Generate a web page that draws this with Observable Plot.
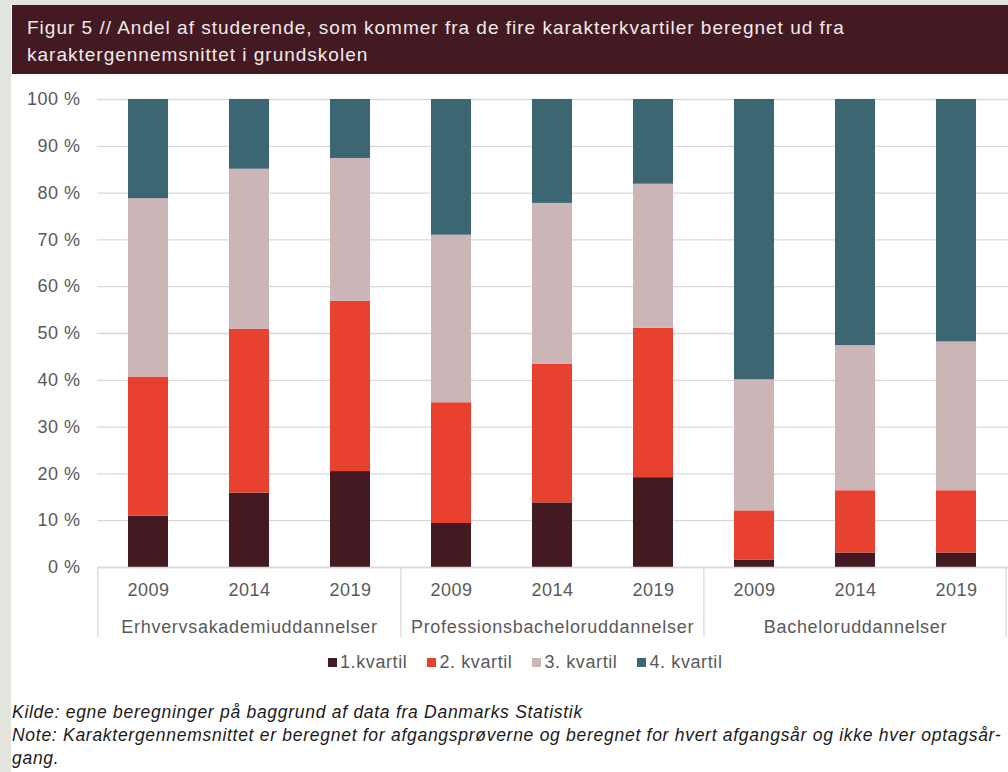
<!DOCTYPE html>
<html><head><meta charset="utf-8">
<script src="https://cdn.jsdelivr.net/npm/d3@7"></script>
<script src="https://cdn.jsdelivr.net/npm/@observablehq/plot@0.6"></script>
<style>
body{margin:0;width:1008px;height:772px;position:relative;background:#fff;font-family:"Liberation Sans",Arial,sans-serif;overflow:hidden}
#strip{position:absolute;left:0;top:0;width:11px;height:772px;background:#e4e4df;z-index:2}
#topstrip{position:absolute;left:0;top:0;width:1008px;height:5px;background:#e4e4df;z-index:2}
#title{position:absolute;left:12px;top:5px;width:996px;height:69px;background:#431a22;color:#f3e9ea;font-size:19px;letter-spacing:1px;line-height:27px;padding:9px 0 0 15px;box-sizing:border-box;white-space:nowrap;z-index:3}
#chart{position:absolute;left:0;top:80px}
#legend{position:absolute;left:328px;top:652px;display:flex;align-items:center;font-size:18px;letter-spacing:0.6px;color:#595959;white-space:nowrap}
#legend .it{display:flex;align-items:center;margin-right:20px}
#legend .sw{width:9px;height:9px;margin-right:3px}
#foot{position:absolute;left:12px;top:701px;font-style:italic;font-size:17.5px;letter-spacing:0.72px;line-height:23px;color:#1a1a1a;white-space:nowrap;z-index:3}
</style>
</head><body>
<div id="strip"></div><div id="topstrip"></div>
<div id="title">Figur 5 // Andel af studerende, som kommer fra de fire karakterkvartiler beregnet ud fra<br>karaktergennemsnittet i grundskolen</div>
<div id="chart"></div>
<div id="legend"></div>
<div id="foot">Kilde: egne beregninger på baggrund af data fra Danmarks Statistik<br>Note: Karaktergennemsnittet er beregnet for afgangsprøverne og beregnet for hvert afgangsår og ikke hver optagsår-<br>gang.</div>
<script>
const groups = ["Erhvervsakademiuddannelser", "Professionsbacheloruddannelser", "Bacheloruddannelser"];
const years = ["2009", "2014", "2019"];
const quartiles = ["1.kvartil", "2. kvartil", "3. kvartil", "4. kvartil"];
const colors = ["#431a22", "#e8412f", "#cbb5b6", "#3c6772"];
const yTicks = [0, 10, 20, 30, 40, 50, 60, 70, 80, 90, 100];
// values per bar, order: Erhv 2009,2014,2019, Prof 2009,2014,2019, Bach 2009,2014,2019
const q1 = [11.0, 15.9, 20.5, 9.4, 13.8, 19.2, 1.6, 3.1, 3.1];
const q2 = [29.7, 35.0, 36.4, 25.8, 29.6, 31.9, 10.5, 13.3, 13.3];
const q3 = [38.1, 34.2, 30.5, 35.8, 34.4, 30.8, 28.0, 31.0, 31.8];
const q4 = [21.2, 14.9, 12.6, 29.0, 22.2, 18.1, 59.9, 52.6, 51.8];

const series = [q1, q2, q3, q4];
const keys = [];
groups.forEach(g => years.forEach(y => keys.push(g + "|" + y)));
const table = [];
quartiles.forEach((q, qi) => keys.forEach((k, ki) => table.push({key: k, quartile: q, value: series[qi][ki]})));

const W = 1008, ML = 97, MR = 0;
const step = (W - ML - MR) / keys.length;
const grey = "#595959";
const lineCol = "#d9d9d9";

const chart = Plot.plot({
  width: W, height: 562,
  marginTop: 19, marginBottom: 75, marginLeft: ML, marginRight: MR,
  style: {fontFamily: '"Liberation Sans", Arial, sans-serif', fontSize: "18px", letterSpacing: "0.5px", color: grey, background: "#fff", overflow: "visible"},
  x: {domain: keys, paddingInner: 0.6, paddingOuter: 0.3, label: null},
  y: {domain: [0, 100], label: null},
  color: {domain: quartiles, range: colors},
  marks: [
    Plot.gridY(yTicks, {stroke: lineCol, strokeOpacity: 1, strokeWidth: 1.3}),
    Plot.axisY(yTicks, {tickSize: 0, tickPadding: 17, tickFormat: d => d + " %", fontSize: 18, fill: grey, label: null}),
    Plot.barY(table, {x: "key", y: "value", fill: "quartile", order: quartiles}),
    Plot.ruleY([0], {stroke: lineCol, strokeWidth: 1.3}),
    Plot.axisX({tickSize: 0, tickPadding: 16, tickFormat: k => k.split("|")[1], fontSize: 18, fill: grey, label: null}),
    Plot.ruleX(groups.map(g => g + "|" + years[0]), {y1: 0, y2: 0, insetBottom: -70, dx: -step / 2, stroke: lineCol, strokeWidth: 1.3}),
    Plot.ruleX([keys[keys.length - 1]], {y1: 0, y2: 0, insetBottom: -70, dx: step / 2 - 1, stroke: lineCol, strokeWidth: 1.3}),
    Plot.text(groups, {x: g => g + "|" + years[1], y: () => 0, text: d => d, dy: 60, fontSize: 18, fill: grey, style: {letterSpacing: "0.7px"}})
  ]
});
document.getElementById("chart").appendChild(chart);
chart.querySelectorAll("g[aria-label='text'] text").forEach(t => t.style.letterSpacing = "0.7px");

const leg = document.getElementById("legend");
quartiles.forEach((q, i) => {
  const it = document.createElement("div"); it.className = "it";
  const sw = document.createElement("div"); sw.className = "sw"; sw.style.background = colors[i];
  const t = document.createElement("span"); t.textContent = q;
  it.appendChild(sw); it.appendChild(t); leg.appendChild(it);
});
</script>
</body></html>
